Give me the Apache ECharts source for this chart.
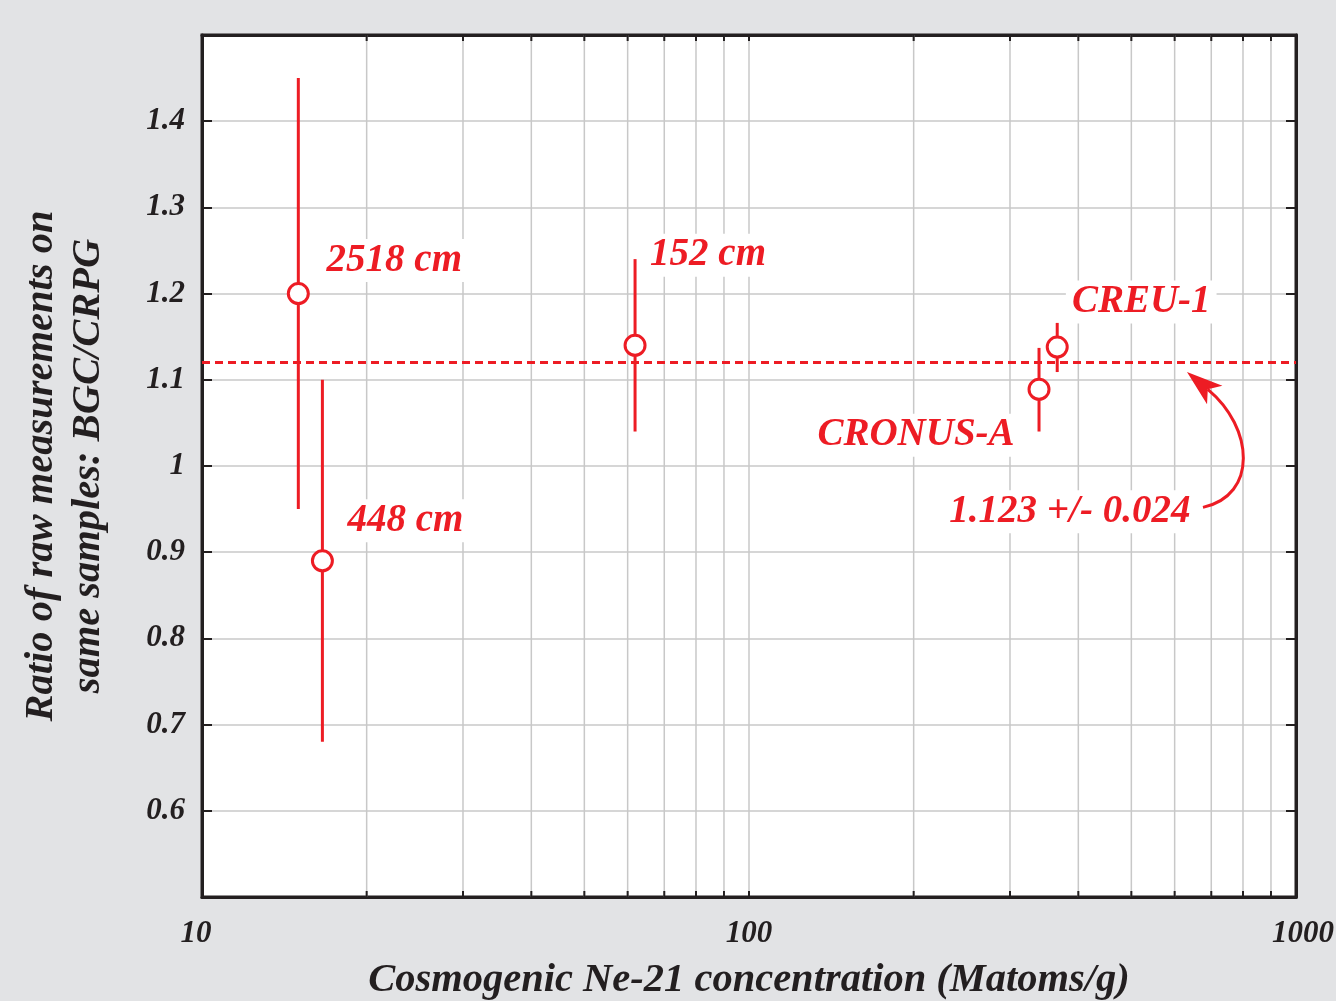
<!DOCTYPE html>
<html>
<head>
<meta charset="utf-8">
<script src="https://cdn.jsdelivr.net/npm/echarts@6/dist/echarts.min.js"></script>
<style>
html,body{margin:0;padding:0;background:#e2e3e5;}
#chart{width:1336px;height:1001px;}
</style>
</head>
<body>
<div id="chart"></div>
<script>
// ---- data ----
const samples = ['2518 cm', '448 cm', '152 cm', 'CRONUS-A', 'CREU-1'];
const ne21 = [15.0, 16.6, 61.9, 339, 366];          // Matoms/g
const ratio = [1.20, 0.89, 1.14, 1.089, 1.138];
const ratioLow = [0.95, 0.68, 1.04, 1.04, 1.109];
const ratioHigh = [1.45, 1.10, 1.24, 1.137, 1.166];
const meanRatio = 1.123;
const meanErr = 0.024;
const minorTicks = [20, 30, 40, 50, 60, 70, 80, 90, 200, 300, 400, 500, 600, 700, 800, 900];
const yTicks = [0.6, 0.7, 0.8, 0.9, 1, 1.1, 1.2, 1.3, 1.4];
// annotation anchors (data coordinates)
const meanLabelAt = [386, 0.947];
const arrowFrom = [676, 0.952];
const arrowTo = [632, 1.109];
// label offsets (px) relative to each point
const labelOffsets = [[96, -33], [83, -40], [73, -90], [-123, 46], [84, -45]];

const RED = '#ed1c24';
const INK = '#231f20';
const FONT = "'Liberation Serif', 'Times New Roman', serif";

const chart = echarts.init(document.getElementById('chart'));

const pointData = samples.map((s, i) => ({
  name: s,
  value: [ne21[i], ratio[i]],
  label: { offset: labelOffsets[i] }
}));
const barData = samples.map((s, i) => [ne21[i], ratioLow[i], ratioHigh[i]]);

const labelStyle = {
  show: true,
  position: 'inside',
  align: 'center',
  verticalAlign: 'middle',
  formatter: p => p.name,
  color: RED,
  opacity: 1,
  fontFamily: FONT,
  fontStyle: 'italic',
  fontWeight: 'bold',
  fontSize: 39,
  backgroundColor: '#ffffff',
  padding: [2, 6]
};

const frameLine = { show: true, onZero: false, lineStyle: { color: INK, width: 3 } };
const tickFont = { color: INK, fontFamily: FONT, fontStyle: 'italic', fontWeight: 'bold', fontSize: 31 };

const option = {
  backgroundColor: '#e2e3e5',
  animation: false,
  grid: {
    left: 202, right: 40, top: 35, bottom: 104,
    outerBoundsMode: 'none',
    containLabel: false,
    show: true, backgroundColor: '#ffffff', borderColor: INK, borderWidth: 3
  },
  xAxis: [{
    type: 'log', logBase: 10, min: 10, max: 1000,
    name: 'Cosmogenic Ne-21 concentration (Matoms/g)',
    nameLocation: 'middle', nameGap: 63,
    nameTextStyle: { color: INK, fontFamily: FONT, fontStyle: 'italic', fontWeight: 'bold', fontSize: 40.5, verticalAlign: 'top' },
    axisLine: frameLine,
    axisTick: { show: true, inside: true, length: 6, lineStyle: { color: INK, width: 2 } },
    axisLabel: Object.assign({}, tickFont, {
      margin: 21,
      formatter: v => {
        const r = Math.round(v);
        if (r === 10) return '{l|' + r + '}';
        if (r === 1000) return '{r|' + r + '}';
        return String(r);
      },
      rich: {
        l: Object.assign({}, tickFont, { padding: [0, 12, 0, 0] }),
        r: Object.assign({}, tickFont, { padding: [0, 0, 0, 14] })
      }
    }),
    splitLine: { show: true, lineStyle: { color: '#c8c8c8', width: 1.5 } }
  }, {
    type: 'log', logBase: 10, min: 10, max: 1000, position: 'top',
    axisLine: frameLine,
    axisTick: { show: true, inside: true, length: 6, lineStyle: { color: INK, width: 2 } },
    axisLabel: { show: false },
    splitLine: { show: false }
  }],
  yAxis: [{
    type: 'value', min: 0.5, max: 1.5, interval: 0.1,
    name: 'Ratio of raw measurements on\nsame samples: BGC/CRPG',
    nameLocation: 'middle', nameGap: 90, nameRotate: 90,
    nameTextStyle: { color: INK, fontFamily: FONT, fontStyle: 'italic', fontWeight: 'bold', fontSize: 40.5, lineHeight: 47, align: 'center' },
    axisLine: frameLine,
    axisTick: { show: true, inside: true, length: 10, lineStyle: { color: INK, width: 2 } },
    axisLabel: Object.assign({}, tickFont, {
      margin: 17,
      formatter: v => {
        const r = Math.round(v * 10) / 10;
        return yTicks.some(t => Math.abs(t - r) < 1e-9) ? String(r) : '';
      }
    }),
    splitLine: { show: true, lineStyle: { color: '#c8c8c8', width: 1.5 } }
  }, {
    type: 'value', min: 0.5, max: 1.5, interval: 0.1, position: 'right',
    axisLine: frameLine,
    axisTick: { show: true, inside: true, length: 10, lineStyle: { color: INK, width: 2 } },
    axisLabel: { show: false },
    splitLine: { show: false }
  }],
  series: [
    {
      // minor log grid lines + minor ticks
      type: 'custom',
      silent: true,
      z: 1,
      xAxisIndex: 0, yAxisIndex: 0,
      data: minorTicks.map(v => [v, 1]),
      encode: { x: 0, y: 1 },
      renderItem: (params, api) => {
        const cs = params.coordSys;
        const x = api.coord([api.value(0), 1])[0];
        const top = cs.y, bot = cs.y + cs.height;
        return {
          type: 'group',
          children: [
            { type: 'line', shape: { x1: x, y1: top, x2: x, y2: bot }, style: { stroke: '#c8c8c8', lineWidth: 1.5 } },
            { type: 'line', shape: { x1: x, y1: bot - 6, x2: x, y2: bot }, style: { stroke: INK, lineWidth: 2 } },
            { type: 'line', shape: { x1: x, y1: top, x2: x, y2: top + 6 }, style: { stroke: INK, lineWidth: 2 } }
          ]
        };
      }
    },
    {
      // error bars
      type: 'custom',
      silent: true,
      z: 3,
      data: barData,
      encode: { x: 0, y: [1, 2] },
      renderItem: (params, api) => {
        const a = api.coord([api.value(0), api.value(1)]);
        const b = api.coord([api.value(0), api.value(2)]);
        return { type: 'line', shape: { x1: a[0], y1: a[1], x2: b[0], y2: b[1] }, style: { stroke: RED, lineWidth: 3 } };
      }
    },
    {
      // curved arrow pointing at the mean line
      type: 'custom',
      silent: true,
      z: 4,
      data: [[arrowFrom[0], arrowFrom[1], arrowTo[0], arrowTo[1]]],
      encode: { x: [0, 2], y: [1, 3] },
      renderItem: (params, api) => {
        const s = api.coord([api.value(0), api.value(1)]);
        const t = api.coord([api.value(2), api.value(3)]);
        const ux = -0.77, uy = -0.64;           // head direction
        const nx = -uy, ny = ux;
        const L = 36, W = 12, notch = 9;
        const bx = t[0] - L * ux, by = t[1] - L * uy;
        const mx = bx + notch * ux, my = by + notch * uy;
        const c1 = [s[0] + 55, s[1] - 12];
        const c2 = [mx - 60 * ux, my - 60 * uy];
        return {
          type: 'group',
          children: [
            { type: 'bezierCurve', shape: { x1: s[0], y1: s[1], x2: mx, y2: my, cpx1: c1[0], cpy1: c1[1], cpx2: c2[0], cpy2: c2[1] },
              style: { stroke: RED, lineWidth: 3, fill: null } },
            { type: 'polygon', shape: { points: [[t[0], t[1]], [bx + W * nx, by + W * ny], [mx, my], [bx - W * nx, by - W * ny]] },
              style: { fill: RED, stroke: null } }
          ]
        };
      }
    },
    {
      // mean line + its label
      type: 'scatter',
      z: 4,
      symbol: 'circle',
      symbolSize: 0,
      itemStyle: { color: RED, opacity: 1 },
      emphasis: { disabled: true },
      data: [{ value: meanLabelAt, name: meanRatio.toFixed(3) + ' +/- ' + meanErr.toFixed(3) }],
      label: Object.assign({}, labelStyle, { padding: [2, 4] }),
      markLine: {
        silent: true,
        animation: false,
        symbol: ['none', 'none'],
        label: { show: false },
        lineStyle: { color: RED, width: 3, type: [8, 5] },
        data: [{ yAxis: meanRatio }]
      }
    },
    {
      // points
      type: 'scatter',
      z: 5,
      symbol: 'circle',
      symbolSize: 20,
      itemStyle: { color: '#ffffff', borderColor: RED, borderWidth: 3, opacity: 1 },
      label: labelStyle,
      data: pointData
    }
  ]
};
chart.setOption(option);
</script>
</body>
</html>
